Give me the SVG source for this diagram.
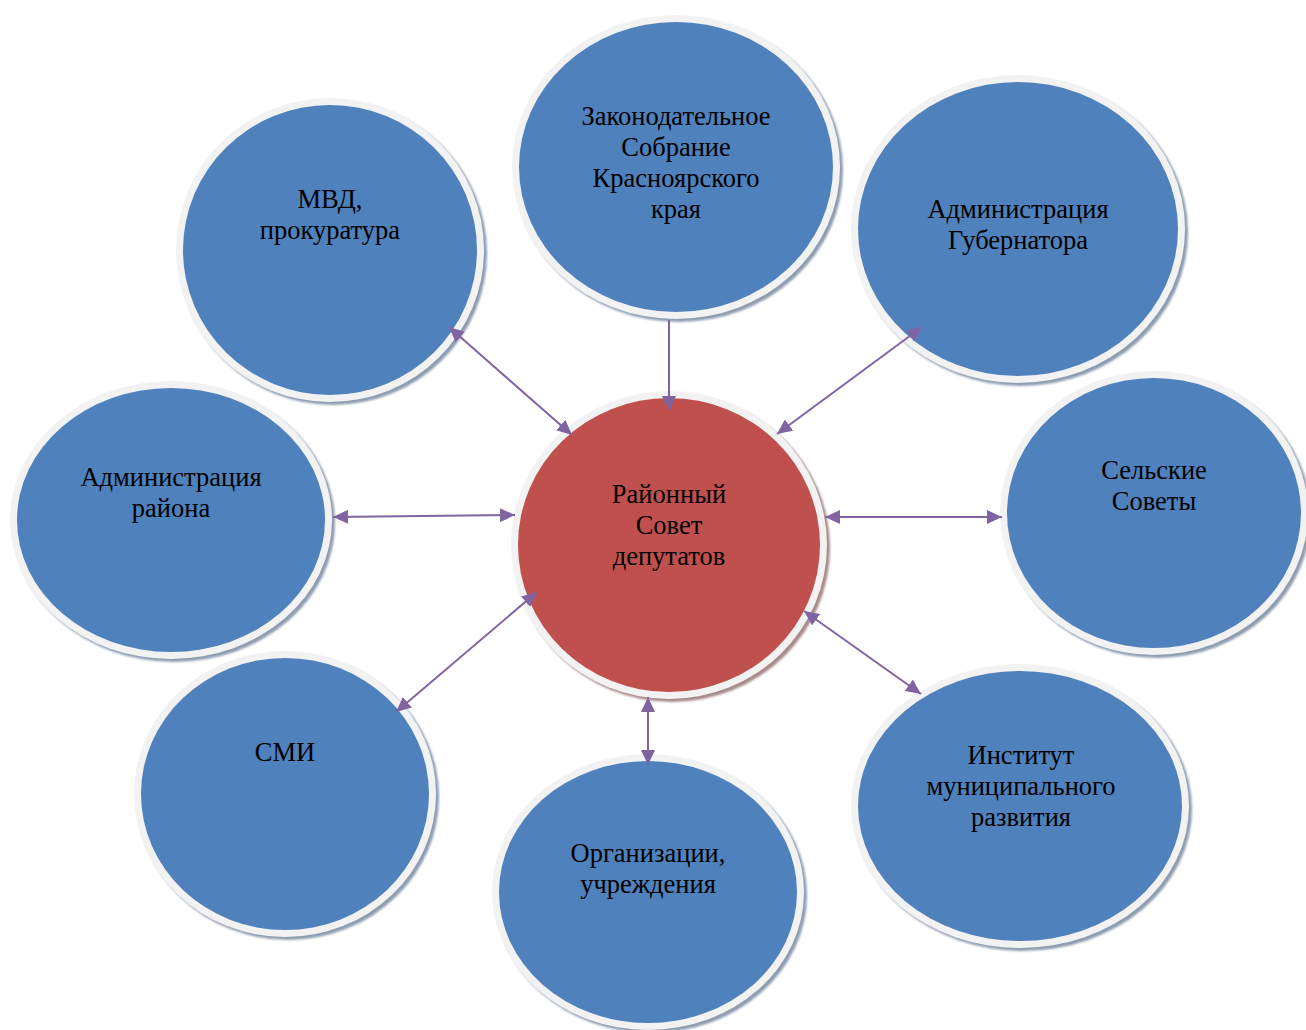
<svg xmlns="http://www.w3.org/2000/svg" width="1306" height="1030" viewBox="0 0 1306 1030">
<style>
  .ring { fill: #f2f2f2; }
  .shb { fill: #8e9cb0; }
  .shr { fill: #a88a8a; }
  .blue { fill: #4f81bd; }
  .red { fill: #c0504d; }
  .lbl { font-family: "Liberation Serif", "Times New Roman", serif; font-size: 26.5px; fill: #000; text-anchor: middle; }
  .con { stroke: #8064a2; stroke-width: 2; fill: none; }
</style>
<defs>
  <filter id="soft" x="-5%" y="-5%" width="110%" height="110%">
    <feGaussianBlur stdDeviation="1"/>
  </filter>
  <marker id="ah" viewBox="0 0 15 14" refX="15" refY="7" markerWidth="15" markerHeight="14" markerUnits="userSpaceOnUse" orient="auto-start-reverse">
    <path d="M0,0 L15,7 L0,14 Z" fill="#8064a2"/>
  </marker>
</defs>
<rect width="1306" height="1030" fill="#ffffff"/>

<g id="node-zakon">
  <ellipse class="shb" filter="url(#soft)" cx="679" cy="170" rx="164" ry="152"/>
  <ellipse class="ring" cx="676" cy="167" rx="164" ry="152"/>
  <ellipse class="blue" cx="676" cy="167" rx="157" ry="145"/>
  <text class="lbl" x="676" y="125">Законодательное</text>
  <text class="lbl" x="676" y="156">Собрание</text>
  <text class="lbl" x="676" y="187">Красноярского</text>
  <text class="lbl" x="676" y="218">края</text>
</g>

<g id="node-mvd">
  <ellipse class="shb" filter="url(#soft)" cx="333" cy="253" rx="154" ry="152"/>
  <ellipse class="ring" cx="330" cy="250" rx="154" ry="152"/>
  <ellipse class="blue" cx="330" cy="250" rx="147" ry="145"/>
  <text class="lbl" x="330" y="208">МВД,</text>
  <text class="lbl" x="330" y="239">прокуратура</text>
</g>

<g id="node-admgub">
  <ellipse class="shb" filter="url(#soft)" cx="1021" cy="232" rx="167" ry="154"/>
  <ellipse class="ring" cx="1018" cy="229" rx="167" ry="154"/>
  <ellipse class="blue" cx="1018" cy="229" rx="160" ry="147"/>
  <text class="lbl" x="1018" y="218">Администрация</text>
  <text class="lbl" x="1018" y="249">Губернатора</text>
</g>

<g id="node-admraion">
  <ellipse class="shb" filter="url(#soft)" cx="174" cy="523" rx="161" ry="139"/>
  <ellipse class="ring" cx="171" cy="520" rx="161" ry="139"/>
  <ellipse class="blue" cx="171" cy="520" rx="154" ry="132"/>
  <text class="lbl" x="171" y="486">Администрация</text>
  <text class="lbl" x="171" y="517">района</text>
</g>

<g id="node-selskie">
  <ellipse class="shb" filter="url(#soft)" cx="1157" cy="516" rx="154" ry="142"/>
  <ellipse class="ring" cx="1154" cy="513" rx="154" ry="142"/>
  <ellipse class="blue" cx="1154" cy="513" rx="147" ry="135"/>
  <text class="lbl" x="1154" y="479">Сельские</text>
  <text class="lbl" x="1154" y="510">Советы</text>
</g>

<g id="node-smi">
  <ellipse class="shb" filter="url(#soft)" cx="288" cy="797" rx="151" ry="143"/>
  <ellipse class="ring" cx="285" cy="794" rx="151" ry="143"/>
  <ellipse class="blue" cx="285" cy="794" rx="144" ry="136"/>
  <text class="lbl" x="285" y="761">СМИ</text>
</g>

<g id="node-org">
  <ellipse class="shb" filter="url(#soft)" cx="651" cy="895" rx="156" ry="138"/>
  <ellipse class="ring" cx="648" cy="892" rx="156" ry="138"/>
  <ellipse class="blue" cx="648" cy="892" rx="149" ry="131"/>
  <text class="lbl" x="648" y="862">Организации,</text>
  <text class="lbl" x="648" y="893">учреждения</text>
</g>

<g id="node-institut">
  <ellipse class="shb" filter="url(#soft)" cx="1023" cy="809" rx="169" ry="142"/>
  <ellipse class="ring" cx="1020" cy="806" rx="169" ry="142"/>
  <ellipse class="blue" cx="1020" cy="806" rx="162" ry="135"/>
  <text class="lbl" x="1021" y="764">Институт</text>
  <text class="lbl" x="1021" y="795">муниципального</text>
  <text class="lbl" x="1021" y="826">развития</text>
</g>

<g id="node-center">
  <ellipse class="shr" filter="url(#soft)" cx="672" cy="548" rx="158" ry="154"/>
  <ellipse class="ring" cx="669" cy="545" rx="158" ry="154"/>
  <ellipse class="red" cx="669" cy="545" rx="151" ry="147"/>
  <text class="lbl" x="669" y="503">Районный</text>
  <text class="lbl" x="669" y="534">Совет</text>
  <text class="lbl" x="669" y="565">депутатов</text>
</g>

<g id="connectors">
  <line class="con" x1="669" y1="320" x2="669" y2="411" marker-end="url(#ah)"/>
  <line class="con" x1="449" y1="327" x2="572" y2="435" marker-start="url(#ah)" marker-end="url(#ah)"/>
  <line class="con" x1="922" y1="327" x2="777" y2="434" marker-start="url(#ah)" marker-end="url(#ah)"/>
  <line class="con" x1="333" y1="517" x2="515" y2="515" marker-start="url(#ah)" marker-end="url(#ah)"/>
  <line class="con" x1="825" y1="517" x2="1002" y2="517" marker-start="url(#ah)" marker-end="url(#ah)"/>
  <line class="con" x1="396" y1="712" x2="537" y2="592" marker-start="url(#ah)" marker-end="url(#ah)"/>
  <line class="con" x1="648" y1="697" x2="648" y2="765" marker-start="url(#ah)" marker-end="url(#ah)"/>
  <line class="con" x1="804" y1="611" x2="921" y2="694" marker-start="url(#ah)" marker-end="url(#ah)"/>
</g>
</svg>
